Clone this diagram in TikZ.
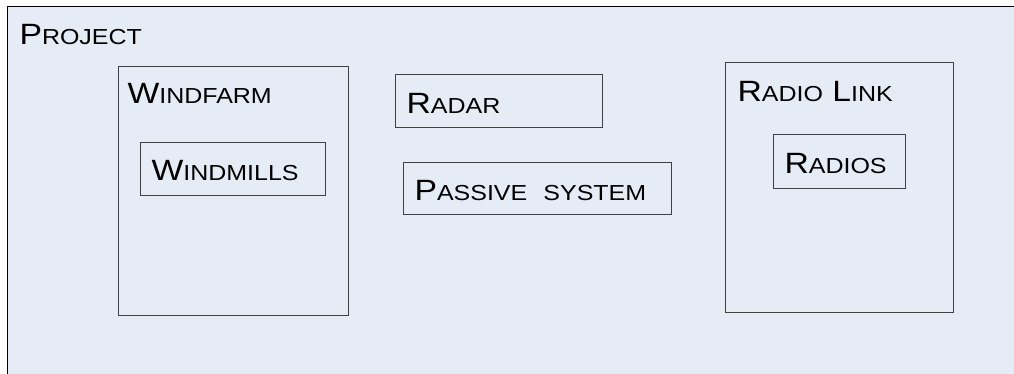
\documentclass[tikz,border=0pt]{standalone}
\usepackage{fontspec}
\setmainfont[FakeStretch=1.15]{Liberation Sans}
\usepackage{tikz}
\definecolor{paneblue}{RGB}{230,236,246}
\definecolor{edgegray}{RGB}{64,64,64}
% fake small caps: the rest of a word set in smaller capitals
\newcommand{\smcap}[1]{{\fontsize{16.3pt}{18pt}\selectfont\MakeUppercase{#1}}}
\begin{document}
\begin{tikzpicture}[x=0.75pt,y=-0.75pt,line width=0.75pt,
  box/.style={draw=edgegray,anchor=north west,inner sep=0pt},
  lbl/.style={anchor=base west,inner sep=0pt,font=\fontsize{22pt}{24pt}\selectfont}]
\useasboundingbox (0,0) rectangle (1014,374);
\draw[fill=paneblue,draw=black,line width=1.1pt] (7.5,6.5) rectangle (1030,390);
\node[lbl] (project) at (19,45) {P\smcap{roject}};
% left group
\node[box,minimum width=230*0.75pt,minimum height=249*0.75pt] (windfarm) at (118,66) {};
\node[lbl] (windfarmtxt) at (127,104) {W\smcap{indfarm}};
\node[box,minimum width=185*0.75pt,minimum height=53*0.75pt] (windmills) at (140,142) {};
\node[lbl] (windmillstxt) at (151,181) {W\smcap{indmills}};
% middle
\node[box,minimum width=207*0.75pt,minimum height=53*0.75pt] (radar) at (395,74) {};
\node[lbl] (radartxt) at (406,114) {R\smcap{adar}};
\node[box,minimum width=268*0.75pt,minimum height=52*0.75pt] (passive) at (403,162) {};
\node[lbl] (passivetxt) at (414,201) {P\smcap{assive}\hspace{0.55em}\smcap{system}};
% right group
\node[box,minimum width=228*0.75pt,minimum height=250*0.75pt] (radiolink) at (725,62) {};
\node[lbl] (radiolinktxt) at (737,102) {R\smcap{adio} L\smcap{ink}};
\node[box,minimum width=132*0.75pt,minimum height=54*0.75pt] (radios) at (773,134) {};
\node[lbl] (radiostxt) at (784,174) {R\smcap{adios}};
\end{tikzpicture}
\end{document}
